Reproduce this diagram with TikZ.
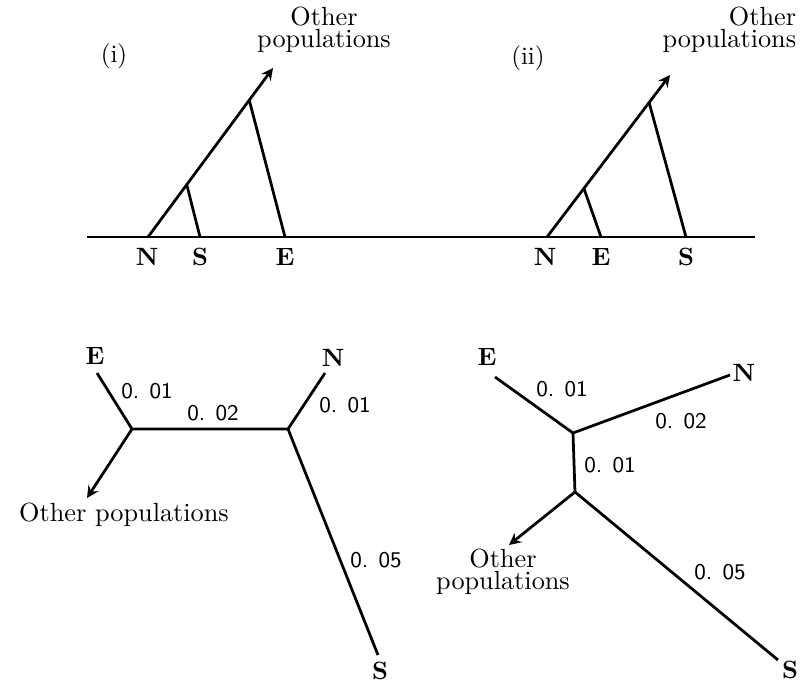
\documentclass[tikz,border=0pt]{standalone}
\usepackage{amsmath}
\usepackage{tikz}
\usetikzlibrary{arrows.meta, calc}

\begin{document}
\begin{tikzpicture}[x=0.4pt, y=-0.4pt,
    branch/.style={line width=1.1pt},
    tip/.style={branch, ->, >=stealth},
    taxon/.style={font=\bfseries},
    len/.style={font=\sffamily\small},
    others/.style={align=center, font=\fontsize{10.5}{9}\selectfont}]
\useasboundingbox (0,0) rectangle (809,682);

% (i) and (ii): the common axis
\coordinate (axL) at (87,237);
\coordinate (axR) at (755,237);
\draw[branch] (axL) -- (axR);

% (i)
\coordinate (n1) at (148,237);
\coordinate (s1) at (200,237);
\coordinate (e1) at (285,237);
\coordinate (o1) at (273,68);
\coordinate (js1) at ($(n1)!0.31!(o1)$);
\coordinate (je1) at ($(n1)!0.81!(o1)$);
\draw[tip] (n1) -- (o1);
\draw[branch] (js1) -- (s1);
\draw[branch] (je1) -- (e1);
\node (lab1) at (114,56) {(i)};
\node[others] (oth1) at (324,30) {Other\\populations};
\node[taxon] (N1) at (147,257) {N};
\node[taxon] (S1) at (200,257) {S};
\node[taxon] (E1) at (285,257) {E};

% (ii)
\coordinate (n2) at (547,237);
\coordinate (e2) at (601,237);
\coordinate (s2) at (686,237);
\coordinate (o2) at (670,75);
\coordinate (je2) at ($(n2)!0.30!(o2)$);
\coordinate (js2) at ($(n2)!0.83!(o2)$);
\draw[tip] (n2) -- (o2);
\draw[branch] (je2) -- (e2);
\draw[branch] (js2) -- (s2);
\node (lab2) at (528,58) {(ii)};
\node[others, align=right, anchor=east] (oth2) at (805,30) {Other\\populations};
\node[taxon] (N2) at (545,257) {N};
\node[taxon] (E2) at (601,257) {E};
\node[taxon] (S2) at (686,257) {S};

% unrooted tree for (i)
\coordinate (tE1) at (97,373);
\coordinate (tL1) at (132,429);
\coordinate (tR1) at (288,429);
\coordinate (tN1) at (325,373);
\coordinate (tS1) at (378,655);
\coordinate (tO1) at (87,498);
\draw[branch] (tE1) -- (tL1) -- (tR1) -- (tN1);
\draw[branch] (tR1) -- (tS1);
\draw[tip] (tL1) -- (tO1);
\node[taxon] (bE1) at (95,356) {E};
\node[taxon] (bN1) at (333,358) {N};
\node[taxon] (bS1) at (380,671) {S};
\node[font=\fontsize{10.5}{9}\selectfont] (bO1) at (124,515) {Other populations};
\node[len] (d11) at (147,391) {0. 01};
\node[len] (d12) at (213,413) {0. 02};
\node[len] (d13) at (345,405) {0. 01};
\node[len] (d14) at (376,560) {0. 05};

% unrooted tree for (ii)
\coordinate (tE2) at (495,377);
\coordinate (tU2) at (573,433);
\coordinate (tN2) at (730,375);
\coordinate (tD2) at (575,492);
\coordinate (tS2) at (778,660);
\coordinate (tO2) at (509,545);
\draw[branch] (tE2) -- (tU2) -- (tN2);
\draw[branch] (tU2) -- (tD2) -- (tS2);
\draw[tip] (tD2) -- (tO2);
\node[taxon] (bE2) at (487,357) {E};
\node[taxon] (bN2) at (744,373) {N};
\node[taxon] (bS2) at (790,670) {S};
\node[others] (bO2) at (503,572) {Other\\populations};
\node[len] (d21) at (562,389) {0. 01};
\node[len] (d22) at (681,421) {0. 02};
\node[len] (d23) at (610,465) {0. 01};
\node[len] (d24) at (720,572) {0. 05};
\end{tikzpicture}
\end{document}
